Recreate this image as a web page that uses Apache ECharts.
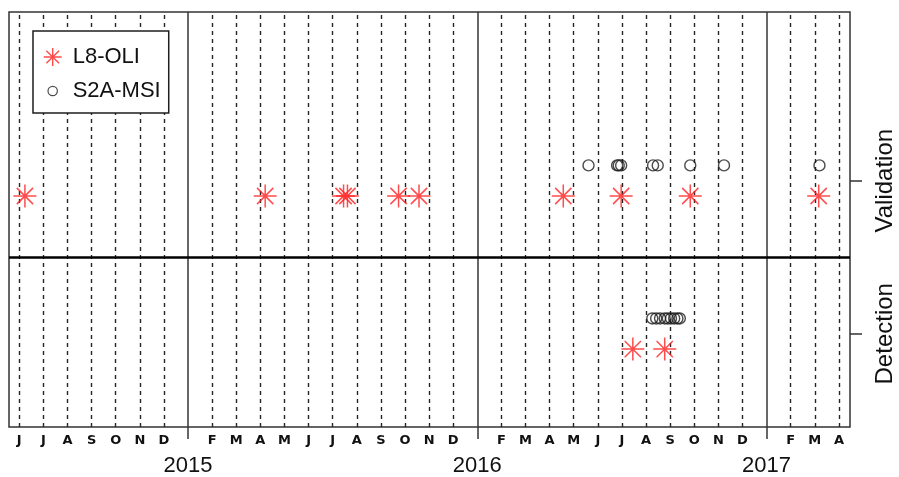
<!DOCTYPE html>
<html>
<head>
<meta charset="utf-8">
<title>Image acquisition dates</title>
<script src="https://cdn.jsdelivr.net/npm/echarts@6/dist/echarts.min.js"></script>
<style>
  html, body { margin: 0; padding: 0; background: #fff; }
  #chart { width: 899px; height: 477px; }
</style>
</head>
<body>
<div id="chart"></div>
<script>
// Acquisition dates, by sensor and by use of the scene
const validationL8 = ['2014-06-08', '2015-04-07', '2015-07-15', '2015-07-20', '2015-09-23',
                      '2015-10-19', '2016-04-18', '2016-06-30', '2016-09-26', '2017-03-06'];
const validationS2A = ['2016-05-20', '2016-06-25', '2016-06-27', '2016-06-30', '2016-08-10',
                       '2016-08-16', '2016-09-26', '2016-11-08', '2017-03-07'];
const detectionL8 = ['2016-07-15', '2016-08-25'];
const detectionS2A = ['2016-08-09', '2016-08-14', '2016-08-19', '2016-08-25', '2016-08-29',
                      '2016-09-02', '2016-09-06', '2016-09-10', '2016-09-13'];

// Rows of the chart (y = 1, 2) and axis tick labels
const rowLabels = ['Detection', 'Validation'];
const monthLetters = ['J', 'F', 'M', 'A', 'M', 'J', 'J', 'A', 'S', 'O', 'N', 'D'];
const yearLabels = ['2015', '2016', '2017'];
const firstMonth = '2014-06';
const lastMonth = '2017-04';

const BASE_YEAR = 2014;
const RED = '#ff1f1f';
const INK = '#1e1e1e';

// Position along the x axis in months since January of BASE_YEAR
function monthPos(str) {
  const parts = str.split('-').map(Number);
  const y = parts[0], m = parts[1], d = parts[2];
  const days = new Date(Date.UTC(y, m, 0)).getUTCDate();
  return (y - BASE_YEAR) * 12 + (m - 1) + (d ? (d - 1) / days : 0);
}

const m0 = monthPos(firstMonth);
const m1 = monthPos(lastMonth);
const monthTicks = [];
for (let v = m0; v <= m1; v++) monthTicks.push(v);
const januaryTicks = monthTicks.filter(v => v % 12 === 0);
const otherTicks = monthTicks.filter(v => v % 12 !== 0);
const yearTicks = yearLabels.map(y => monthPos(y + '-01'));

// Landsat points sit just below their row, Sentinel points just above
const L8_SHIFT = -0.1;
const S2A_SHIFT = 0.1;
function points(dates, row, shift) {
  const y = rowLabels.indexOf(row) + 1 + shift;
  return dates.map(d => [monthPos(d), y]);
}

const STAR = 'path://M0,-10L0,10M-10,0L10,0M-7.07,-7.07L7.07,7.07M-7.07,7.07L7.07,-7.07';
// small ring inside a larger invisible box, for the legend icon
const RING_ICON = 'path://M-9,-9M9,9M4.7,0A4.7,4.7,0,1,1,-4.7,0A4.7,4.7,0,1,1,4.7,0Z';

const gridLines = monthTicks.map(v => ({
  xAxis: v,
  lineStyle: v % 12 === 0
    ? { type: 'solid', color: '#363636', width: 1.5 }
    : { type: [4, 4], color: '#262626', width: 1.4 }
}));

const chart = echarts.init(document.getElementById('chart'), null, { renderer: 'canvas' });

chart.setOption({
  animation: false,
  backgroundColor: '#fff',
  grid: {
    left: 9, right: 49, top: 12, bottom: 49,
    show: true, borderColor: '#333', borderWidth: 1.5, backgroundColor: 'transparent'
  },
  legend: {
    z: 10,
    orient: 'vertical',
    left: 33, top: 31,
    padding: [15, 8, 11, 10],
    itemGap: 12,
    itemWidth: 30,
    itemHeight: 18,
    backgroundColor: '#fff',
    borderColor: INK,
    borderWidth: 1.5,
    selectedMode: false,
    textStyle: { fontFamily: 'Liberation Sans', fontSize: 22, color: '#111' },
    data: [
      { name: 'L8-OLI', icon: STAR,
        itemStyle: { color: 'transparent', borderColor: RED, borderWidth: 1.4 } },
      { name: 'S2A-MSI', icon: RING_ICON,
        itemStyle: { color: 'transparent', borderColor: INK, borderWidth: 1.2 } }
    ]
  },
  xAxis: [
    {
      type: 'value',
      min: m0 - 0.427,
      max: m1 + 0.46,
      axisLine: { show: false },
      splitLine: { show: false },
      axisTick: {
        show: true, customValues: januaryTicks, length: 12,
        lineStyle: { color: '#363636', width: 1.5 }
      },
      axisLabel: {
        show: true,
        customValues: otherTicks,
        margin: 7,
        formatter: v => monthLetters[Math.round(v) % 12],
        fontFamily: 'DejaVu Sans', fontWeight: 'bold', fontSize: 13, color: '#111'
      }
    },
    {
      type: 'value',
      position: 'bottom',
      min: m0 - 0.427,
      max: m1 + 0.46,
      axisLine: { show: false },
      axisTick: { show: false },
      splitLine: { show: false },
      axisLabel: {
        show: true,
        customValues: yearTicks,
        margin: 28,
        formatter: v => String(BASE_YEAR + Math.round(v) / 12),
        fontFamily: 'Liberation Sans', fontSize: 22, color: '#111'
      }
    }
  ],
  yAxis: {
    type: 'value',
    position: 'right',
    min: 0.391,
    max: 3.102,
    axisLine: { show: false },
    splitLine: { show: false },
    axisTick: {
      show: true, customValues: [1, 2], length: 12,
      lineStyle: { color: '#333', width: 1.5 }
    },
    axisLabel: {
      show: true,
      customValues: [1, 2],
      rotate: 90,
      margin: 23,
      formatter: v => rowLabels[Math.round(v) - 1],
      fontFamily: 'Liberation Sans', fontSize: 24, color: '#111'
    }
  },
  series: [
    {
      name: 'grid',
      type: 'line',
      data: [],
      silent: true,
      z: 1,
      markLine: {
        z: 1,
        silent: true,
        symbol: ['none', 'none'],
        label: { show: false },
        emphasis: { disabled: true },
        data: gridLines.concat([
          { yAxis: 1.5, lineStyle: { type: 'solid', color: '#000', width: 2.5 } }
        ])
      }
    },
    {
      name: 'L8-OLI',
      type: 'scatter',
      symbol: STAR,
      symbolSize: 23,
      itemStyle: { color: 'transparent', borderColor: RED, borderWidth: 1.5 },
      emphasis: { disabled: true },
      data: points(validationL8, 'Validation', L8_SHIFT)
        .concat(points(detectionL8, 'Detection', L8_SHIFT))
    },
    {
      name: 'S2A-MSI',
      type: 'scatter',
      symbol: 'circle',
      symbolSize: 11,
      itemStyle: { color: 'transparent', borderColor: INK, borderWidth: 1.4 },
      emphasis: { disabled: true },
      data: points(validationS2A, 'Validation', S2A_SHIFT)
        .concat(points(detectionS2A, 'Detection', S2A_SHIFT))
    }
  ]
});
</script>
</body>
</html>
